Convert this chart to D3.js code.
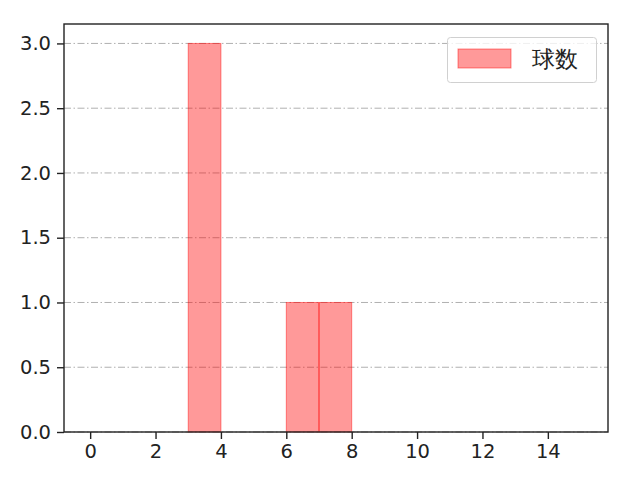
<!DOCTYPE html>
<html>
<head>
<meta charset="utf-8">
<script src="https://cdn.jsdelivr.net/npm/d3@7"></script>
<style>
body { margin: 0; background: #fff; }
text { font-family: "DejaVu Sans", sans-serif; }
</style>
</head>
<body>
<svg id="chart" width="640" height="480"></svg>
<script>
// histogram bins: [start, end), count
var binStart = [3, 6, 7];
var binEnd = [4, 7, 8];
var counts = [3, 1, 1];
var xTicks = [0, 2, 4, 6, 8, 10, 12, 14];
var yTicks = [0, 0.5, 1.0, 1.5, 2.0, 2.5, 3.0];
var seriesName = "球数";

var svg = d3.select("#chart");
var mLeft = 64, mRight = 608, mTop = 24, mBottom = 432;

var x = d3.scaleLinear().domain([-0.8, 15.84]).range([mLeft, mRight]);
var y = d3.scaleLinear().domain([0, 3.15]).range([mBottom, mTop]);

// grid
svg.append("g").selectAll("line").data(yTicks).enter().append("line")
    .attr("x1", mLeft).attr("x2", mRight)
    .attr("y1", function (d) { return y(d); })
    .attr("y2", function (d) { return y(d); })
    .attr("stroke", "#b0b0b0")
    .attr("stroke-width", 1)
    .attr("stroke-dasharray", "7,2.5,1.5,2.5");

// bars
svg.append("g").selectAll("rect").data(counts).enter().append("rect")
    .attr("x", function (d, i) { return x(binStart[i]); })
    .attr("width", function (d, i) { return x(binEnd[i]) - x(binStart[i]); })
    .attr("y", function (d) { return y(d); })
    .attr("height", function (d) { return mBottom - y(d); })
    .attr("fill", "rgba(255,0,0,0.4)")
    .attr("stroke", "rgba(255,0,0,0.45)")
    .attr("stroke-width", 1);

// axes
var xAxis = d3.axisBottom(x).tickValues(xTicks).tickSize(7).tickPadding(5)
    .tickFormat(d3.format("d"));
var yAxis = d3.axisLeft(y).tickValues(yTicks).tickSize(7).tickPadding(6)
    .tickFormat(d3.format(".1f"));

var gx = svg.append("g").attr("transform", "translate(0," + mBottom + ")").call(xAxis);
var gy = svg.append("g").attr("transform", "translate(" + mLeft + ",0)").call(yAxis);
[gx, gy].forEach(function (g) {
    g.attr("font-size", 19.5).attr("font-family", "DejaVu Sans, sans-serif");
    g.select(".domain").remove();
    g.selectAll(".tick line").attr("stroke", "#222").attr("stroke-width", 1.4);
    g.selectAll(".tick text").attr("fill", "#222");
});

// frame
svg.append("rect").attr("x", mLeft).attr("y", mTop)
    .attr("width", mRight - mLeft).attr("height", mBottom - mTop)
    .attr("fill", "none").attr("stroke", "#222").attr("stroke-width", 1.4);

// legend
var lg = svg.append("g");
lg.append("rect").attr("x", 447.5).attr("y", 37.5).attr("width", 149).attr("height", 45)
    .attr("rx", 3).attr("fill", "#fff").attr("fill-opacity", 0.8)
    .attr("stroke", "#d0d0d0").attr("stroke-width", 1);
lg.append("rect").attr("x", 458).attr("y", 49).attr("width", 53).attr("height", 19)
    .attr("fill", "rgba(255,0,0,0.4)").attr("stroke", "rgba(255,0,0,0.45)");
lg.append("text").attr("x", 532).attr("y", 67).text(seriesName)
    .attr("font-size", 23).attr("font-family", "Noto Sans CJK JP, sans-serif")
    .attr("fill", "#222");
</script>
</body>
</html>
